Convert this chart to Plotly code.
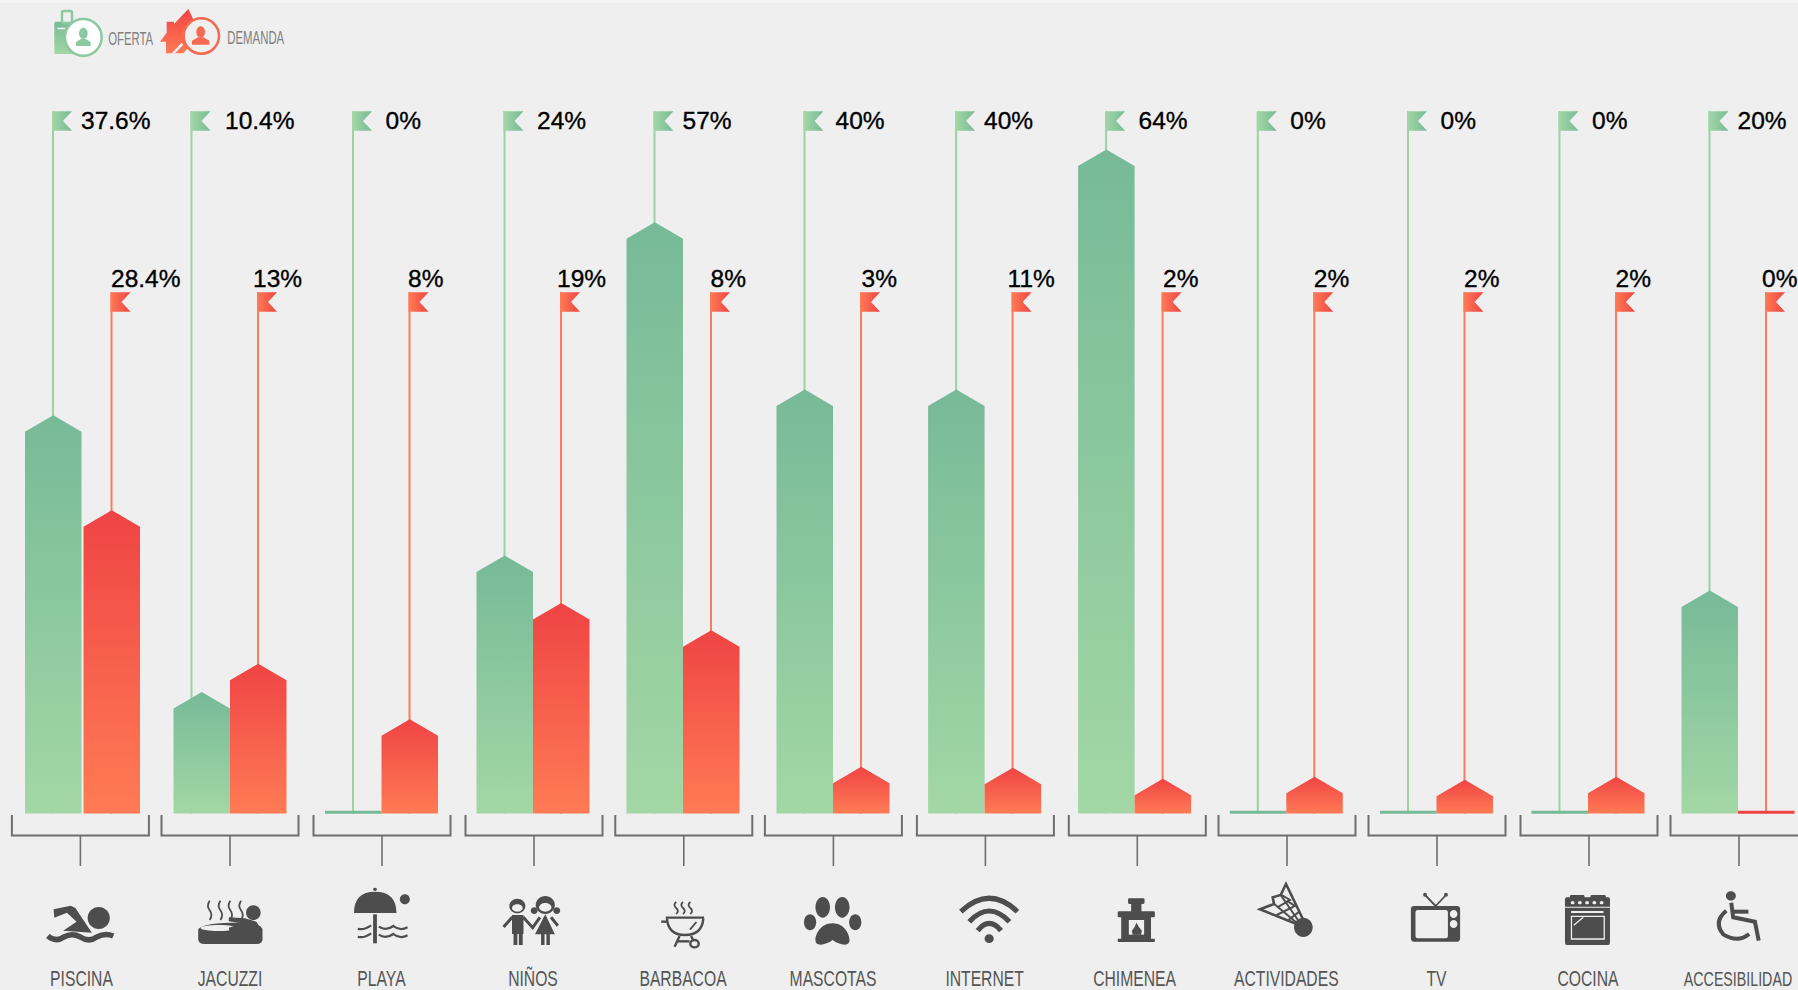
import re
import math
import plotly.graph_objects as go

# ---------- data ----------
categories = ["PISCINA", "JACUZZI", "PLAYA", "NIÑOS", "BARBACOA", "MASCOTAS", "INTERNET",
              "CHIMENEA", "ACTIVIDADES", "TV", "COCINA", "ACCESIBILIDAD"]
oferta_values = [37.8, 10.4, 0, 23.9, 56.9, 40.35, 40.35, 64.1, 0, 0, 0, 20.45]   # heights as drawn
demanda_values = [28.4, 13.2, 7.7, 19.2, 16.5, 3.0, 2.9, 1.8, 2, 1.7, 2, 0]       # heights as drawn
oferta_labels = ["37.6%", "10.4%", "0%", "24%", "57%", "40%", "40%", "64%", "0%", "0%", "0%", "20%"]
demanda_labels = ["28.4%", "13%", "8%", "19%", "8%", "3%", "11%", "2%", "2%", "2%", "2%", "0%"]
series_names = ["OFERTA", "DEMANDA"]

# ---------- layout constants ----------
W, H = 1798, 990
PLOT_BOTTOM = 962
BASE_PX = 813.5
PX_PER_UNIT = 10.1
GROUP_X = [81.5, 230, 381.5, 533, 683, 833, 984.6, 1134.6, 1286.3, 1436.5, 1588, 1738]
BRACKET_X = [80.4, 230, 382, 534, 683.8, 833.4, 985.4, 1137.3, 1287, 1437, 1589, 1739]
OFERTA_LABEL_DX = [-2, 3.5, 2.5, 2.5, -2, 1, -2, 2.5, 2.5, 2.5, 2.5, -2]
DEMANDA_LABEL_DX = [3.5, -1, 2.5, 0, 3.5, 4.5, -1, 4.5, 3.5, 3.5, 3.5, 0]
BAR_W = 56.5
TIP_PX = 16.5
BG = "#EFEFEF"
GREEN_TOP, GREEN_BOTTOM = "#77BA98", "#A3D7A5"
RED_TOP, RED_BOTTOM = "#EF4444", "#FF7B55"
GREEN_POLE, RED_POLE = "#9AD2A2", "#FF7B60"
DARK = "#4D4D4D"
FONT = "Liberation Sans"


def v(py):
    """pixel row -> value on the y axis"""
    return (BASE_PX - py) / PX_PER_UNIT


fig = go.Figure()


def pole(x, top_px, color):
    fig.add_trace(go.Scatter(x=[x, x], y=[v(top_px), 0], mode="lines",
                             line=dict(color=color, width=2), hoverinfo="skip"))


def flag(x, top_px, c0, c1):
    xs = [x - 1, x + 19, x + 10, x + 19, x - 1, x - 1]
    ys = [v(top_px), v(top_px), v(top_px + 9.7), v(top_px + 19.4), v(top_px + 19.4), v(top_px)]
    fig.add_trace(go.Scatter(x=xs, y=ys, mode="none", fill="toself", hoverinfo="skip",
                             fillgradient=dict(type="horizontal", colorscale=[[0, c0], [1, c1]])))


def bar(x0, x1, val, c_top, c_bottom):
    if val <= 0:
        t = 0.27
        fig.add_trace(go.Scatter(x=[x0, x1, x1, x0, x0], y=[-0.03, -0.03, t, t, -0.03], mode="none",
                                 fill="toself", fillcolor=c_top, hoverinfo="skip"))
        return
    tip = val + TIP_PX / PX_PER_UNIT
    xs = [x0, x0, (x0 + x1) / 2, x1, x1, x0]
    ys = [0, val, tip, val, 0, 0]
    fig.add_trace(go.Scatter(x=xs, y=ys, mode="none", fill="toself", hoverinfo="skip",
                             fillgradient=dict(type="vertical", colorscale=[[0, c_bottom], [1, c_top]])))


GREEN_POLE_DX = {1: -38.5}
RED_SHIFT = {0: 2}
GREEN_TOP_PX, RED_TOP_PX = 111.3, 292.3

green_pole_x, red_pole_x = [], []
for i, gx in enumerate(GROUP_X):
    gp = gx + GREEN_POLE_DX.get(i, -28.5)
    rp = gx + 28 + RED_SHIFT.get(i, 0)
    green_pole_x.append(gp)
    red_pole_x.append(rp)
    pole(gp, GREEN_TOP_PX, GREEN_POLE)
    pole(rp, RED_TOP_PX, RED_POLE)
    flag(gp, GREEN_TOP_PX, GREEN_BOTTOM, GREEN_TOP)
    flag(rp, RED_TOP_PX, RED_BOTTOM, RED_TOP)
for i, gx in enumerate(GROUP_X):
    bar(gx - BAR_W, gx, oferta_values[i], GREEN_TOP, GREEN_BOTTOM)
    s = RED_SHIFT.get(i, 0)
    bar(gx + s, gx + s + BAR_W, demanda_values[i], RED_TOP, RED_BOTTOM)


# gradient parts of the legend icons (crop coordinates, 3x)
def legend_part(pts, c_top, c_bottom):
    xs = [p[0] / 3 for p in pts] + [pts[0][0] / 3]
    ys = [v(p[1] / 3) for p in pts] + [v(pts[0][1] / 3)]
    fig.add_trace(go.Scatter(x=xs, y=ys, mode="none", fill="toself", hoverinfo="skip",
                             fillgradient=dict(type="vertical", colorscale=[[0, c_bottom], [1, c_top]])))


legend_part([(166, 65), (237, 65), (240, 70), (240, 158), (237, 162), (166, 162), (163, 158), (163, 70)],
            GREEN_TOP, GREEN_BOTTOM)
legend_part([(565, 27), (522, 72), (522, 65), (500, 65), (500, 98), (480, 125), (498, 125), (498, 160),
             (550, 160), (600, 100)], RED_TOP, RED_BOTTOM)

fig.add_trace(go.Scatter(x=[x + 30 + d for x, d in zip(green_pole_x, OFERTA_LABEL_DX)], y=[v(122.8)] * 12,
                         mode="text", text=oferta_labels, textposition="middle right", hoverinfo="skip",
                         textfont=dict(family=FONT, size=24.5, color="#000000")))
fig.add_trace(go.Scatter(x=[x - 4 + d for x, d in zip(red_pole_x, DEMANDA_LABEL_DX)], y=[v(281)] * 12,
                         mode="text", text=demanda_labels, textposition="middle right", hoverinfo="skip",
                         textfont=dict(family=FONT, size=24.5, color="#000000")))

# ---------- decoration: brackets and icons ----------
shapes = [dict(type="rect", xref="paper", yref="y", x0=0, x1=1, y0=v(3), y1=v(0), layer="below",
               fillcolor="#F4F4F4", line=dict(width=0))]


def add_path(d, fill=None, stroke=None, width=0):
    shapes.append(dict(type="path", path=d, xref="x", yref="y", layer="above",
                       fillcolor=fill if fill else "rgba(0,0,0,0)",
                       line=dict(color=stroke if stroke else "rgba(0,0,0,0)", width=width)))


def conv(d, x0, sx, y0=780, sy=3.0):
    def rep(m):
        px = x0 + float(m.group(1)) / sx
        py = y0 + float(m.group(2)) / sy
        return f"{px:.2f},{v(py):.4f}"
    return re.sub(r"(-?[\d.]+),(-?[\d.]+)", rep, d)


def ell(cx, cy, rx, ry):
    k = 0.5523
    return (f"M{cx-rx},{cy} C{cx-rx},{cy-k*ry} {cx-k*rx},{cy-ry} {cx},{cy-ry} "
            f"C{cx+k*rx},{cy-ry} {cx+rx},{cy-k*ry} {cx+rx},{cy} "
            f"C{cx+rx},{cy+k*ry} {cx+k*rx},{cy+ry} {cx},{cy+ry} "
            f"C{cx-k*rx},{cy+ry} {cx-rx},{cy+k*ry} {cx-rx},{cy} Z")


def rect(x0, y0, x1, y1):
    return f"M{x0},{y0} L{x1},{y0} L{x1},{y1} L{x0},{y1} Z"


def rrect(x0, y0, x1, y1, r):
    ry = r * 1.15
    return (f"M{x0+r},{y0} L{x1-r},{y0} Q{x1},{y0} {x1},{y0+ry} L{x1},{y1-ry} Q{x1},{y1} {x1-r},{y1} "
            f"L{x0+r},{y1} Q{x0},{y1} {x0},{y1-ry} L{x0},{y0+ry} Q{x0},{y0} {x0+r},{y0} Z")


for gx in BRACKET_X:
    add_path(f"M{gx-68.5:.1f},{v(815):.4f} L{gx-68.5:.1f},{v(835.5):.4f} "
             f"L{gx+68.5:.1f},{v(835.5):.4f} L{gx+68.5:.1f},{v(815):.4f}", stroke="#6E6E6E", width=2)
    add_path(f"M{gx:.1f},{v(836):.4f} L{gx:.1f},{v(866):.4f}", stroke="#6E6E6E", width=1.6)

SX = 1568 / 600


def ic(d, fill=DARK, x0=0, sx=SX):
    add_path(conv(d, x0, sx), fill=fill)


def st(d, w=1.6, color=DARK, x0=0, sx=SX):
    add_path(conv(d, x0, sx), stroke=color, width=w)


def steam(x, y0, y1, w=1.4, x0=0):
    h = (y1 - y0) / 2
    st(f"M{x},{y0} Q{x-9},{y0+h/2} {x},{y0+h} Q{x+9},{y0+1.5*h} {x},{y1}", w=w, x0=x0)


# swimmer
ic(ell(258, 414, 29, 33))
ic("M140,388 L185,377 L197,384 L240,458 L165,452 L200,425 L175,398 L142,413 Z")
st("M125,468 Q146,488 167,471 Q188,458 210,471 Q232,488 253,471 Q275,458 296,468", w=5.5)
# jacuzzi
ic("M518,447 L518,478 Q518,492 535,492 L670,492 Q686,492 686,478 L686,447 L680,438 L640,428 Q540,426 518,447 Z")
ic(ell(572, 444, 48, 9), fill=BG)
ic(ell(662, 398, 19, 22))
ic("M598,412 L640,415 L670,425 L684,450 L600,458 L598,443 L632,430 L598,424 Z")
for sx_ in (548, 576, 602, 630):
    steam(sx_, 362, 420, w=1.8)
# umbrella
ic("M925,399 Q925,335 980,335 Q1036,335 1036,399 Z")
ic(ell(980, 328, 5, 5))
ic(rect(975, 403, 985, 490))
ic(ell(1058, 358, 13, 15))
for yy in (446, 470):
    st(f"M935,{yy} Q950,{yy+6} 970,{yy-10}", w=2.2)
    st(f"M990,{yy-6} Q1008,{yy+8} 1028,{yy-8} Q1045,{yy+8} 1065,{yy-4}", w=2.2)
# kids
ic(ell(1352, 378, 21, 22))
ic(ell(1352, 384, 14, 11), fill=BG)
ic(rect(1338, 405, 1368, 462))
ic(rect(1342, 460, 1352, 495))
ic(rect(1356, 460, 1366, 495))
st("M1316,441 L1339,411", w=3)
st("M1367,411 L1392,443 L1411,412", w=3)
ic(ell(1425, 375, 25, 27))
ic(ell(1425, 382, 16, 13), fill=BG)
ic(ell(1396, 392, 9, 10))
ic(ell(1455, 392, 9, 10))
ic("M1425,403 L1398,463 L1450,463 Z")
ic(rect(1414, 460, 1423, 495))
ic(rect(1428, 460, 1437, 495))
st("M1440,412 L1458,437", w=3)

# grill
X = 600
st("M175,415 Q178,465 222,465 Q267,465 270,415", w=2.4, x0=X)
st("M172,413 L272,413", w=2.4, x0=X)
st("M160,425 L176,425", w=2.4, x0=X)
st("M208,468 L195,500", w=2.4, x0=X)
st("M238,468 L244,482", w=2.4, x0=X)
st("M200,484 L234,484", w=2.4, x0=X)
st(ell(247, 491, 11, 11), w=2.4, x0=X)
st("M235,449 L252,426", w=1.8, x0=X)
for sx_ in (199, 217, 236):
    steam(sx_, 366, 402, w=1.8, x0=X)
# paw
for e in ((582, 382, 19, 31), (633, 382, 19, 31), (549, 427, 16, 24), (667, 427, 16, 24)):
    ic(ell(*e), x0=X)
ic("M608,430 C575,430 563,465 563,480 C563,502 590,495 608,480 C625,495 652,502 652,480 C652,465 640,430 608,430 Z", x0=X)
# wifi
ic(ell(1017, 476, 12, 13), x0=X)
st("M943,395 Q1017,315 1091,395", w=5.2, x0=X)
st("M965,425 Q1017,361 1070,425", w=5.2, x0=X)
st("M987,452 Q1017,408 1048,452", w=5.2, x0=X)
# fireplace
ic(rrect(1380, 355, 1423, 372, 3), x0=X)
ic(rect(1388, 370, 1415, 396), x0=X)
ic(rrect(1353, 394, 1450, 412, 3), x0=X)
ic(rect(1362, 410, 1440, 480), x0=X)
ic(rrect(1353, 476, 1450, 486, 2), x0=X)
ic(rect(1382, 420, 1422, 464), fill=BG, x0=X)
ic("M1402,428 Q1398,442 1390,452 L1392,464 L1414,464 L1416,452 Q1408,442 1402,428 Z", x0=X)


# shuttlecock (drawn from its own 3x crop)
def sc(d, fill=None, stroke=None, w=0):
    add_path(conv(d, 1240, 3.0, 870, 3.0), fill=fill, stroke=stroke, width=w)


sc(ell(190, 172, 28, 29), fill=DARK)
sc("M190,150 L138,42 L122,75 L98,82 L102,102 L60,118 L170,162", stroke=DARK, w=2.6)
sc("M122,75 L178,156", stroke=DARK, w=2)
sc("M100,100 L172,160", stroke=DARK, w=2)
sc("M112,112 L150,90 L125,75", stroke=DARK, w=2)
sc("M110,135 L165,108 L140,92", stroke=DARK, w=2)
sc("M145,150 L178,125", stroke=DARK, w=2)

X = 1200
S4 = 1568 / 598
# tv
st("M618,378 L590,345", w=1.8, x0=X, sx=S4)
st("M618,378 L645,345", w=1.8, x0=X, sx=S4)
ic(ell(590, 344, 5, 6), x0=X, sx=S4)
ic(ell(645, 344, 5, 6), x0=X, sx=S4)
ic(rrect(553, 378, 682, 485, 8), x0=X, sx=S4)
ic(rrect(565, 390, 650, 475, 6), fill=BG, x0=X, sx=S4)
ic(ell(665, 402, 10, 12), fill=BG, x0=X, sx=S4)
ic(ell(665, 432, 10, 12), fill=BG, x0=X, sx=S4)
# oven
ic(rrect(970, 345, 1008, 356, 3), x0=X, sx=S4)
ic(rrect(1024, 345, 1064, 356, 3), x0=X, sx=S4)
ic(rrect(957, 352, 1075, 495, 5), x0=X, sx=S4)
for kx in (977, 996, 1015, 1034, 1053):
    ic(ell(kx, 368, 5, 5), fill=BG, x0=X, sx=S4)
ic(rect(957, 380, 1075, 383), fill=BG, x0=X, sx=S4)
ic(rect(973, 393, 1058, 399), fill=BG, x0=X, sx=S4)
st(rect(974, 409, 1060, 477), w=1.3, color=BG, x0=X, sx=S4)
st("M980,436 L1005,412", w=1.3, color=BG, x0=X, sx=S4)
# wheelchair
ic(ell(1392, 348, 13, 14), x0=X, sx=S4)
st("M1393,368 L1398,412 L1455,425 L1465,482", w=4, x0=X, sx=S4)
st("M1398,395 L1438,395", w=4, x0=X, sx=S4)
st("M1380,392 Q1345,425 1372,463 Q1410,490 1440,462", w=4, x0=X, sx=S4)


# legend icons (first crop has a true 3x scale in both directions)
def lg(d, fill=None, stroke=None, w=0):
    add_path(conv(d, 0, 3.0, 0, 3.0), fill=fill, stroke=stroke, width=w)


LG, LR = "#8CC9A0", "#F66A50"
lg(rrect(186, 33, 216, 70, 5), stroke=LG, w=2.5)
lg(rect(172, 83, 196, 88), fill=BG)
lg(ell(250, 112, 55, 55), fill="#FFFFFF", stroke=LG, w=2.5)
lg(ell(250, 100, 13, 17), fill=LG)
lg("M228,138 L228,126 L244,116 L256,116 L272,126 L272,138 Z", fill=LG)
lg("M515,160 L545,128 L550,134 L525,160 Z", fill=BG)
lg(ell(604, 108, 53, 53), fill=BG, stroke=LR, w=2.5)
lg(ell(602, 96, 13, 17), fill=LR)
lg("M576,134 L576,122 L594,112 L610,112 L628,122 L628,134 Z", fill=LR)

annotations = [
    dict(x=94, y=v(38.5), xref="x", yref="y", text=series_names[0], showarrow=False, xanchor="left",
         font=dict(family=FONT, size=17.5, color="#808080")),
    dict(x=210, y=v(37.5), xref="x", yref="y", text=series_names[1], showarrow=False, xanchor="left",
         font=dict(family=FONT, size=17.5, color="#808080")),
]

ticktext = [c if c != "ACCESIBILIDAD" else f'<span style="font-size:19.5px">{c}</span>' for c in categories]

fig.update_layout(
    width=W, height=H, margin=dict(l=0, r=0, t=0, b=H - PLOT_BOTTOM, pad=0),
    autosize=False, paper_bgcolor=BG, plot_bgcolor=BG, showlegend=False,
    shapes=shapes, annotations=annotations,
    xaxis=dict(range=[0, W], showgrid=False, zeroline=False, showline=False, ticks="",
               tickmode="array", tickvals=GROUP_X, ticktext=ticktext, fixedrange=True,
               tickfont=dict(family=FONT, size=21.5, color="#555555"), automargin=False,
               ticklabeloverflow="allow", ticklabelstandoff=2),
    yaxis=dict(range=[v(PLOT_BOTTOM), v(0)], visible=False, fixedrange=True),
)

# The reference's condensed face is not installed: narrow the installed face, keeping real text.
POST = """
document.body.style.margin='0';document.body.style.background='#EFEFEF';document.body.style.overflow='hidden';
function squeeze(sel, k){document.querySelectorAll(sel).forEach(function(t){
  var cx=parseFloat(t.getAttribute('x'))||0, old=t.getAttribute('transform')||'';
  t.setAttribute('transform',old+' translate('+cx+',0) scale('+k+',1) translate('+(-cx)+',0)');});}
squeeze('.xtick text',0.73);
squeeze('.annotation-text',0.65);
document.querySelectorAll('.textpoint text').forEach(function(t){
  t.style.stroke='#000';t.style.strokeWidth='0.35px';});
"""
fig.write_html("out.html", config=dict(displayModeBar=False), post_script=POST)
